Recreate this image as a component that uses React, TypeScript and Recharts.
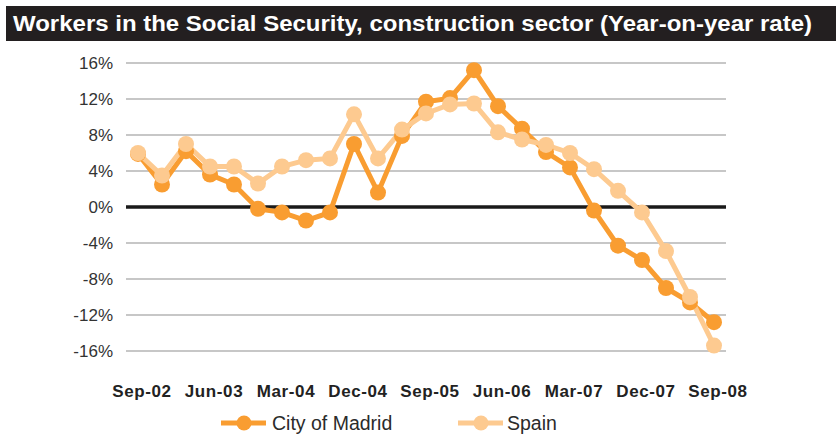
import React from 'react';
import { LineChart, Line, XAxis, YAxis, CartesianGrid, ReferenceLine, Legend } from 'recharts';

const categories = ['Sep-02','Dec-02','Mar-03','Jun-03','Sep-03','Dec-03','Mar-04','Jun-04','Sep-04','Dec-04','Mar-05','Jun-05','Sep-05','Dec-05','Mar-06','Jun-06','Sep-06','Dec-06','Mar-07','Jun-07','Sep-07','Dec-07','Mar-08','Jun-08','Sep-08'];
const madrid = [5.9, 2.5, 6.2, 3.6, 2.5, -0.2, -0.6, -1.5, -0.6, 7.0, 1.6, 7.9, 11.7, 12.1, 15.2, 11.2, 8.7, 6.1, 4.4, -0.4, -4.3, -5.9, -9.0, -10.6, -12.8];
const spain = [6.0, 3.5, 7.0, 4.5, 4.5, 2.6, 4.5, 5.2, 5.4, 10.3, 5.4, 8.6, 10.4, 11.4, 11.5, 8.3, 7.5, 6.9, 6.0, 4.2, 1.8, -0.6, -4.9, -10.0, -15.4];
const yTicks = [-16, -12, -8, -4, 0, 4, 8, 12, 16];
const seriesNames = ['City of Madrid', 'Spain'];
const title = 'Workers in the Social Security, construction sector (Year-on-year rate)';

const MADRID_COLOR = '#F99D31';
const SPAIN_COLOR = '#FDCA90';

const data = categories.map((c, i) => ({ name: c, madrid: madrid[i], spain: spain[i] }));

const FONT = '"Liberation Sans", Arial, Helvetica, sans-serif';

const LegendContent = (props: any) => {
  const items = props.payload || [];
  const lefts = [221, 458];
  return (
    <div style={{ position: 'relative', width: 838, height: 26 }}>
      {items.map((it: any, i: number) => (
        <div key={i} style={{ position: 'absolute', left: lefts[i] ?? 0, top: 0, height: 26, display: 'flex', alignItems: 'center' }}>
          <svg width={46} height={20} style={{ display: 'block' }}>
            <line x1={0} y1={10} x2={45} y2={10} stroke={it.color} strokeWidth={5} />
            <circle cx={23} cy={10} r={7.5} fill={it.color} />
          </svg>
          <span style={{ marginLeft: i === 0 ? 5 : 3, fontFamily: FONT, fontSize: 19.5, color: '#2b2b2b', whiteSpace: 'nowrap' }}>{it.value}</span>
        </div>
      ))}
    </div>
  );
};

export default function App() {
  return (
    <div style={{ position: 'absolute', left: 0, top: 0, width: 838, height: 436, background: '#fff' }}>
      <svg width={838} height={46} style={{ position: 'absolute', left: 0, top: 0, display: 'block' }}>
        <rect x={6} y={6} width={830} height={35} fill="#231f20" />
        <text x={13} y={31} fill="#fff" fontFamily={FONT} fontWeight="bold" fontSize={22.5} textLength={799} lengthAdjust="spacingAndGlyphs">{title}</text>
      </svg>
      <div style={{ position: 'absolute', left: 0, top: 0 }}>
        <LineChart width={838} height={436} data={data} margin={{ top: 63, right: 112, left: 0, bottom: 9 }}>
          <CartesianGrid horizontal={true} vertical={false} stroke="#b5b5b5" strokeWidth={1.5} />
          <XAxis
            dataKey="name"
            interval={2}
            padding={{ left: 12, right: 12 }}
            axisLine={false}
            tickLine={false}
            tickSize={0}
            tickMargin={34}
            height={50}
            tick={{ fontFamily: FONT, fontSize: 17, fontWeight: 'bold', fill: '#222', dx: 4, letterSpacing: 0.6 }}
          />
          <YAxis
            domain={[-16, 16]}
            ticks={yTicks}
            width={126}
            axisLine={false}
            tickLine={false}
            tickSize={0}
            tickMargin={13}
            tickFormatter={(v: number) => `${v}%`}
            tick={{ fontFamily: FONT, fontSize: 17, fill: '#333' }}
          />
          <ReferenceLine y={0} stroke="#1a1a1a" strokeWidth={3.5} />
          <Legend verticalAlign="bottom" content={<LegendContent />} wrapperStyle={{ left: 0, top: 410, bottom: 'auto', width: 838, height: 26 }} />
          <Line type="linear" dataKey="madrid" name={seriesNames[0]} stroke={MADRID_COLOR} strokeWidth={5} dot={{ r: 8, fill: MADRID_COLOR, stroke: 'none' }} activeDot={false} isAnimationActive={false} />
          <Line type="linear" dataKey="spain" name={seriesNames[1]} stroke={SPAIN_COLOR} strokeWidth={5} dot={{ r: 8, fill: SPAIN_COLOR, stroke: 'none' }} activeDot={false} isAnimationActive={false} />
        </LineChart>
      </div>
    </div>
  );
}
